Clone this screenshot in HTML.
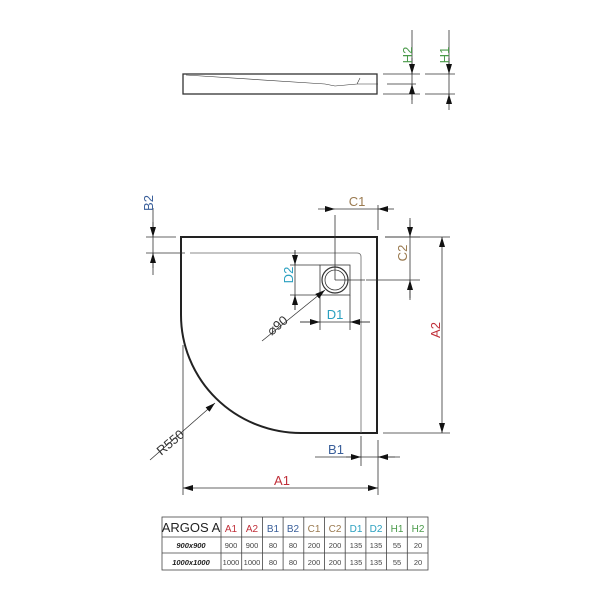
<!DOCTYPE html>
<html><head><style>body{margin:0;background:#fff}svg{display:block}
text{font-family:"Liberation Sans",sans-serif}</style></head><body>
<svg width="600" height="600" viewBox="0 0 600 600" xmlns="http://www.w3.org/2000/svg">
<defs>
<marker id="a" viewBox="0 0 10 6" refX="10" refY="3" markerWidth="10" markerHeight="6" orient="auto-start-reverse" markerUnits="userSpaceOnUse"><path d="M0,0L10,3L0,6z" fill="#111"/></marker>
</defs>
<g fill="none" stroke="#333" stroke-width="0.8">
<rect x="183" y="74" width="194" height="20" stroke-width="1.3"/>
<path d="M186,75 L325,84 L335,86 L357,84 L360,78 M357,84 L378,84" stroke-width="0.6"/>
<path d="M383,74 L420,74 M383,94 L420,94 M387,84 L416,84 M425,74 L455,74 M425,94 L455,94"/>
<path d="M412,30 V104 M449,30 V104"/>
<path d="M412,58 V74" marker-end="url(#a)"/><path d="M412,100 V84" marker-end="url(#a)"/>
<path d="M449,58 V74" marker-end="url(#a)"/><path d="M449,110 V94" marker-end="url(#a)"/>
<path d="M301,433 H377 V237 H181 V315 A120,118 0 0 0 301,433" stroke="#222" stroke-width="2"/>
<path d="M190,253 H357 Q361,253 361,257 V433" stroke="#666"/>
<rect x="320" y="265" width="30" height="30" stroke="#333"/>
<circle cx="335" cy="280" r="13" stroke-width="1.2"/>
<circle cx="335" cy="280" r="10"/>
<path d="M335,215 V280 M335,280 H365 M320,295 V330 M350,295 V330 M290,265 H320 M290,295 H320"/>
<path d="M378,230 V205"/>
<path d="M318,209 H335" marker-end="url(#a)"/><path d="M394,209 H378" marker-end="url(#a)"/>
<path d="M335,209 H378"/>
<path d="M385,237 H420 M366,280 H420 M410,218 V300"/>
<path d="M410,220 V237" marker-end="url(#a)"/><path d="M410,298 V280" marker-end="url(#a)"/>
<path d="M295,250 V310"/>
<path d="M295,250 V265" marker-end="url(#a)"/><path d="M295,310 V295" marker-end="url(#a)"/>
<path d="M300,322 H370"/>
<path d="M300,322 H320" marker-end="url(#a)"/><path d="M370,322 H350" marker-end="url(#a)"/>
<path d="M262,341 L325,290" marker-end="url(#a)"/>
<path d="M146,237 H176 M146,253 H185 M153,208 V275"/>
<path d="M153,222 V237" marker-end="url(#a)"/><path d="M153,268 V253" marker-end="url(#a)"/>
<path d="M150,460 L215,403" marker-end="url(#a)"/>
<path d="M183,345 V495 M378,440 V495 M361,436 V466"/>
<path d="M183,488 H378" marker-start="url(#a)" marker-end="url(#a)"/>
<path d="M315,457 H400"/>
<path d="M346,457 H361" marker-end="url(#a)"/><path d="M395,457 H378" marker-end="url(#a)"/>
<path d="M383,433 H450 M385,237 H450"/>
<path d="M442,237 V433" marker-start="url(#a)" marker-end="url(#a)"/>
</g>
<g font-size="13">
<text x="402" y="55" fill="#4a9a4a" transform="rotate(-90 407 50)" text-anchor="middle">H2</text>
<text x="439" y="55" fill="#4a9a4a" transform="rotate(-90 444 50)" text-anchor="middle">H1</text>
<text x="152" y="214" fill="#3a5f9a" transform="rotate(-90 147 208)" text-anchor="middle">B2</text>
<text x="357" y="206" fill="#9a7a50" text-anchor="middle">C1</text>
<text x="407" y="263" fill="#9a7a50" transform="rotate(-90 402 258)" text-anchor="middle">C2</text>
<text x="293" y="285" fill="#2aa0c0" transform="rotate(-90 288 280)" text-anchor="middle">D2</text>
<text x="335" y="319" fill="#2aa0c0" text-anchor="middle">D1</text>
<text x="277" y="330" fill="#333" transform="rotate(-40 277 325)" text-anchor="middle">⌀90</text>
<text x="170" y="447" fill="#333" transform="rotate(-40 170 442)" text-anchor="middle">R550</text>
<text x="282" y="485" fill="#c0303a" text-anchor="middle">A1</text>
<text x="336" y="454" fill="#3a5f9a" text-anchor="middle">B1</text>
<text x="440" y="340" fill="#c0303a" transform="rotate(-90 435 335)" text-anchor="middle">A2</text>
</g>
<g stroke="#444" stroke-width="0.8" fill="none">
<rect x="162" y="517" width="266" height="53"/>
<path d="M162,537 H428 M162,553 H428"/>
<path d="M221,517V570 M241.7,517V570 M262.4,517V570 M283.1,517V570 M303.8,517V570 M324.5,517V570 M345.2,517V570 M365.9,517V570 M386.6,517V570 M407.3,517V570"/>
</g>
<g font-size="10" text-anchor="middle">
<text x="191" y="532" font-size="13" fill="#222">ARGOS A</text>
<text x="231" y="532" fill="#c0303a">A1</text><text x="252" y="532" fill="#c0303a">A2</text>
<text x="273" y="532" fill="#3a5f9a">B1</text><text x="293" y="532" fill="#3a5f9a">B2</text>
<text x="314" y="532" fill="#9a7a50">C1</text><text x="335" y="532" fill="#9a7a50">C2</text>
<text x="356" y="532" fill="#2aa0c0">D1</text><text x="376" y="532" fill="#2aa0c0">D2</text>
<text x="397" y="532" fill="#4a9a4a">H1</text><text x="418" y="532" fill="#4a9a4a">H2</text>
</g>
<g font-size="7.5" text-anchor="middle" fill="#444">
<text x="191" y="548" font-weight="bold" font-style="italic" fill="#222">900x900</text>
<text x="231" y="548">900</text><text x="252" y="548">900</text><text x="273" y="548">80</text><text x="293" y="548">80</text><text x="314" y="548">200</text><text x="335" y="548">200</text><text x="356" y="548">135</text><text x="376" y="548">135</text><text x="397" y="548">55</text><text x="418" y="548">20</text>
<text x="191" y="565" font-weight="bold" font-style="italic" fill="#222">1000x1000</text>
<text x="231" y="565">1000</text><text x="252" y="565">1000</text><text x="273" y="565">80</text><text x="293" y="565">80</text><text x="314" y="565">200</text><text x="335" y="565">200</text><text x="356" y="565">135</text><text x="376" y="565">135</text><text x="397" y="565">55</text><text x="418" y="565">20</text>
</g>
</svg>
</body></html>
